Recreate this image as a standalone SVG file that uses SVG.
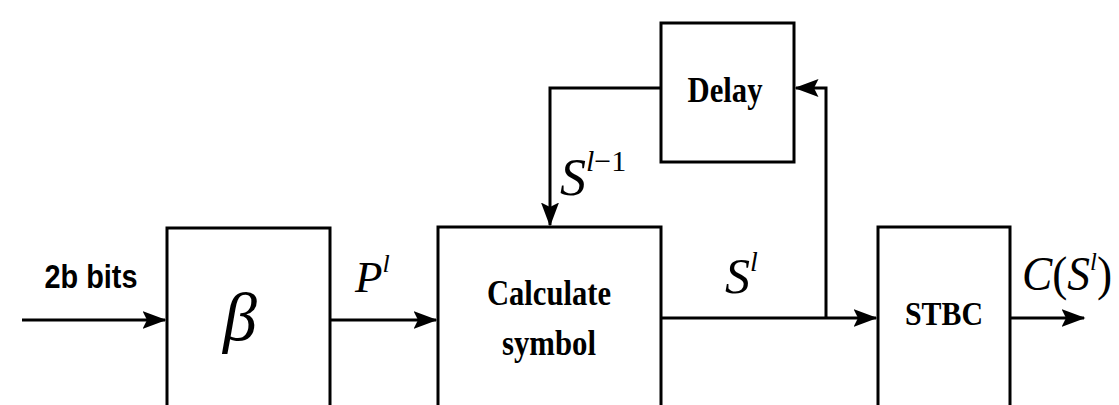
<svg xmlns="http://www.w3.org/2000/svg" width="1119" height="405" viewBox="0 0 1119 405">
<style>
.box{fill:none;stroke:#000;stroke-width:3}
.ln{fill:none;stroke:#000;stroke-width:3}
.lbl{font-family:"Liberation Serif",serif;font-weight:bold;fill:#000;text-anchor:middle}
.math{font-family:"Liberation Serif",serif;font-style:italic;fill:#000}
</style>
<defs>
<marker id="ah" markerWidth="8" markerHeight="6" refX="7.5" refY="3" orient="auto" markerUnits="strokeWidth">
<path d="M0,0 L8,3 L0,6 L1.5,3 Z" fill="#000"/>
</marker>
</defs>
<rect width="1119" height="405" fill="#fff"/>
<g id="beta">
<rect class="box" x="167" y="228" width="163" height="200"/>
<text class="math" x="240" y="340" font-size="68" text-anchor="middle">β</text>
</g>
<g id="calc">
<rect class="box" x="438" y="227" width="223" height="200"/>
<text class="lbl" x="549" y="305" font-size="35" textLength="124" lengthAdjust="spacingAndGlyphs">Calculate</text>
<text class="lbl" x="549" y="355" font-size="35" textLength="94" lengthAdjust="spacingAndGlyphs">symbol</text>
</g>
<g id="delay">
<rect class="box" x="661" y="23" width="133" height="139"/>
<text class="lbl" x="725" y="102" font-size="36" textLength="75" lengthAdjust="spacingAndGlyphs">Delay</text>
</g>
<g id="stbc">
<rect class="box" x="878" y="227" width="132" height="200"/>
<text class="lbl" x="944" y="325" font-size="33" textLength="78" lengthAdjust="spacingAndGlyphs">STBC</text>
</g>
<g id="connectors">
<line class="ln" x1="22" y1="320" x2="165" y2="320" marker-end="url(#ah)"/>
<line class="ln" x1="330" y1="320" x2="436" y2="320" marker-end="url(#ah)"/>
<polyline class="ln" points="661,88 550,88 550,225" marker-end="url(#ah)"/>
<line class="ln" x1="661" y1="318" x2="876" y2="318" marker-end="url(#ah)"/>
<polyline class="ln" points="826,318 826,88 796,88" marker-end="url(#ah)"/>
<line class="ln" x1="1010" y1="318" x2="1084" y2="318" marker-end="url(#ah)"/>
</g>
<g id="labels">
<text x="91" y="288" font-family="Liberation Sans,sans-serif" font-weight="bold" font-size="34" text-anchor="middle" textLength="93" lengthAdjust="spacingAndGlyphs">2b bits</text>
<text class="math" x="355" y="292" font-size="45">P<tspan font-size="26" dy="-20">l</tspan></text>
<text class="math" x="560" y="195" font-size="52">S<tspan font-size="30" dy="-24">l</tspan><tspan font-style="normal" font-size="30">−1</tspan></text>
<text class="math" x="725" y="293" font-size="50">S<tspan font-size="28" dy="-22">l</tspan></text>
<text class="math" x="1022" y="290" font-size="48" textLength="90" lengthAdjust="spacingAndGlyphs">C<tspan font-style="normal">(</tspan>S<tspan font-size="26" dy="-20">l</tspan><tspan font-style="normal" dy="20">)</tspan></text>
</g>
</svg>
